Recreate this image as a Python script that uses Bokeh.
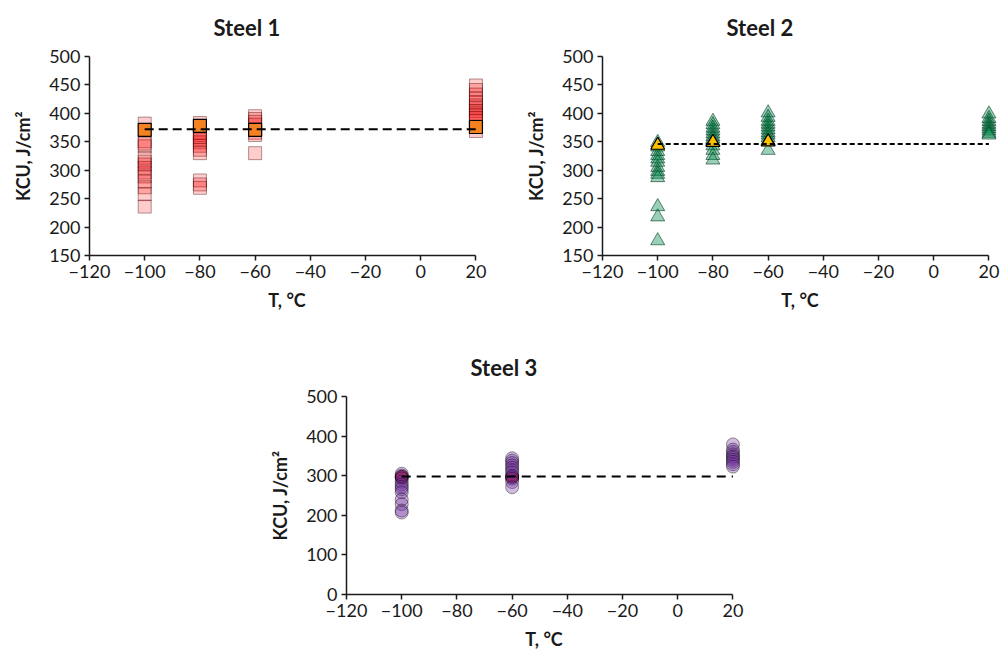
from bokeh.plotting import figure
from bokeh.layouts import column, row
from bokeh.models import Spacer, FixedTicker, Range1d
from bokeh.embed import file_html
from bokeh.resources import INLINE

# ---------------- data ----------------
# Steel 1 (squares): KCU values at each test temperature
s1_m100 = [382, 351, 347, 342, 322, 315, 310, 304, 296, 289, 280, 270, 258, 236]
s1_m80 = [383, 366, 362, 358, 354, 349, 343, 336, 330, 282, 275, 269]
s1_m60 = [395, 390, 385, 380, 366, 362, 330]
s1_p20 = [449, 441, 433, 426, 420, 414, 409, 404, 400, 396, 392, 387, 369]
s1_mean_T = [-100, -80, -60, 20]
s1_mean_v = [371, 378, 371, 376]
s1_line_T = [-100, 20]
s1_line_v = [372, 372]

# Steel 2 (triangles)
s2_m100 = [349, 341, 333, 326, 320, 314, 305, 298, 293, 287, 236, 218, 176]
s2_m80 = [386, 380, 374, 369, 364, 359, 355, 350, 343, 335, 326, 318]
s2_m60 = [401, 393, 386, 381, 376, 371, 366, 362, 357, 352, 335]
s2_p20 = [399, 391, 386, 381, 377, 373, 369, 365, 362]
s2_mean_T = [-100, -80, -60]
s2_mean_v = [344, 349, 350]
s2_line_T = [-100, 20]
s2_line_v = [346, 346]

# Steel 3 (circles)
s3_m100 = [305, 300, 293, 285, 278, 272, 266, 258, 240, 228, 212, 207]
s3_m60 = [344, 338, 332, 326, 320, 314, 308, 300, 292, 284, 271]
s3_p20 = [379, 366, 360, 354, 349, 345, 340, 335, 329, 323]
s3_mean_T = [-100, -60]
s3_mean_v = [297, 297]
s3_line_T = [-100, 20]
s3_line_v = [298, 298]

x_ticks = [-120, -100, -80, -60, -40, -20, 0, 20]
x_labels = {t: (("\u2212" + str(-t)) if t < 0 else str(t)) for t in x_ticks}
y_ticks_12 = [150, 200, 250, 300, 350, 400, 450, 500]
y_ticks_3 = [0, 100, 200, 300, 400, 500]

FONT = "Lato"
INK = "#1a1a1a"


def cols(groups):
    xs, ys = [], []
    for t, vals in groups:
        xs += [t] * len(vals)
        ys += list(vals)
    return xs, ys


def make_fig(title, yr, yticks, frame_h, bl, br, bt, bb):
    p = figure(frame_width=395, frame_height=frame_h,
               x_range=Range1d(-120, 23.1), y_range=Range1d(*yr),
               output_backend="svg", toolbar_location=None,
               min_border_left=bl, min_border_right=br,
               min_border_top=bt, min_border_bottom=bb)
    p.title.text = title
    p.title.align = "left"
    p.title.vertical_align = "top"
    p.title.offset = 124
    p.title.standoff = 27
    p.title.text_font = FONT
    p.title.text_font_size = "22px"
    p.title.text_font_style = "bold"
    p.title.text_color = INK
    p.xgrid.visible = False
    p.ygrid.visible = False
    p.outline_line_color = None
    p.xaxis.ticker = FixedTicker(ticks=x_ticks)
    p.xaxis.major_label_overrides = x_labels
    p.xaxis.bounds = (-120, 20)
    p.yaxis.ticker = FixedTicker(ticks=yticks)
    p.xaxis.axis_label = "T, \u00b0C"
    p.yaxis.axis_label = "KCU, J/cm\u00b2"
    for ax in (p.xaxis[0], p.yaxis[0]):
        ax.axis_line_width = 1.5
        ax.axis_line_color = INK
        ax.major_tick_line_color = INK
        ax.major_tick_line_width = 1.5
        ax.major_tick_out = 5
        ax.major_tick_in = 0
        ax.minor_tick_line_color = None
        ax.major_label_text_font = FONT
        ax.major_label_text_font_size = "18px"
        ax.major_label_text_color = INK
        ax.major_label_standoff = 4
        ax.axis_label_text_font = FONT
        ax.axis_label_text_font_size = "18px"
        ax.axis_label_text_font_style = "bold"
        ax.axis_label_text_color = INK
    p.xaxis.axis_label_standoff = 8
    p.yaxis.axis_label_standoff = 12
    return p


# ---------- Steel 1 ----------
p1 = make_fig("Steel 1", (150, 500), y_ticks_12, 199, 89, 38, 56, 65)
x1, y1 = cols([(-100, s1_m100), (-80, s1_m80), (-60, s1_m60), (20, s1_p20)])
p1.scatter(x1, y1, marker="square", size=13, fill_color="#ff0000", fill_alpha=0.2,
           line_color="#400000", line_alpha=0.4, line_width=1)
p1.scatter(s1_mean_T, s1_mean_v, marker="square", size=13, fill_color="#f58220",
           line_color="#000000", line_width=1.2)
p1.line(s1_line_T, s1_line_v, line_color="black", line_width=2, line_dash="9 5")

# ---------- Steel 2 ----------
p2 = make_fig("Steel 2", (150, 500), y_ticks_12, 199, 80, 5, 56, 65)
x2, y2 = cols([(-100, s2_m100), (-80, s2_m80), (-60, s2_m60), (20, s2_p20)])
p2.scatter(x2, y2, marker="triangle", size=14, fill_color="#008a4c", fill_alpha=0.4,
           line_color="#003a20", line_alpha=0.6, line_width=1)
p2.scatter(s2_mean_T, s2_mean_v, marker="triangle", size=14, fill_color="#ffc000",
           line_color="#000000", line_width=1.2)
p2.line(s2_line_T, s2_line_v, line_color="black", line_width=2, line_dash="5 3")

# ---------- Steel 3 ----------
p3 = make_fig("Steel 3", (0, 500), y_ticks_3, 198, 80, 10, 76, 58)
x3, y3 = cols([(-100, s3_m100), (-60, s3_m60), (20, s3_p20)])
p3.scatter(s3_mean_T, s3_mean_v, marker="circle", size=13, fill_color="#e8302a",
           line_color="#000000", line_width=1)
p3.scatter(x3, y3, marker="circle", size=13, fill_color="#7030a0", fill_alpha=0.32,
           line_color="#000000", line_alpha=0.4, line_width=1)
p3.line(s3_line_T, s3_line_v, line_color="black", line_width=2, line_dash="9 6")

layout = column(row(p1, p2), row(Spacer(width=266, height=10), p3))

open("out.html", "w").write(file_html(layout, INLINE))
